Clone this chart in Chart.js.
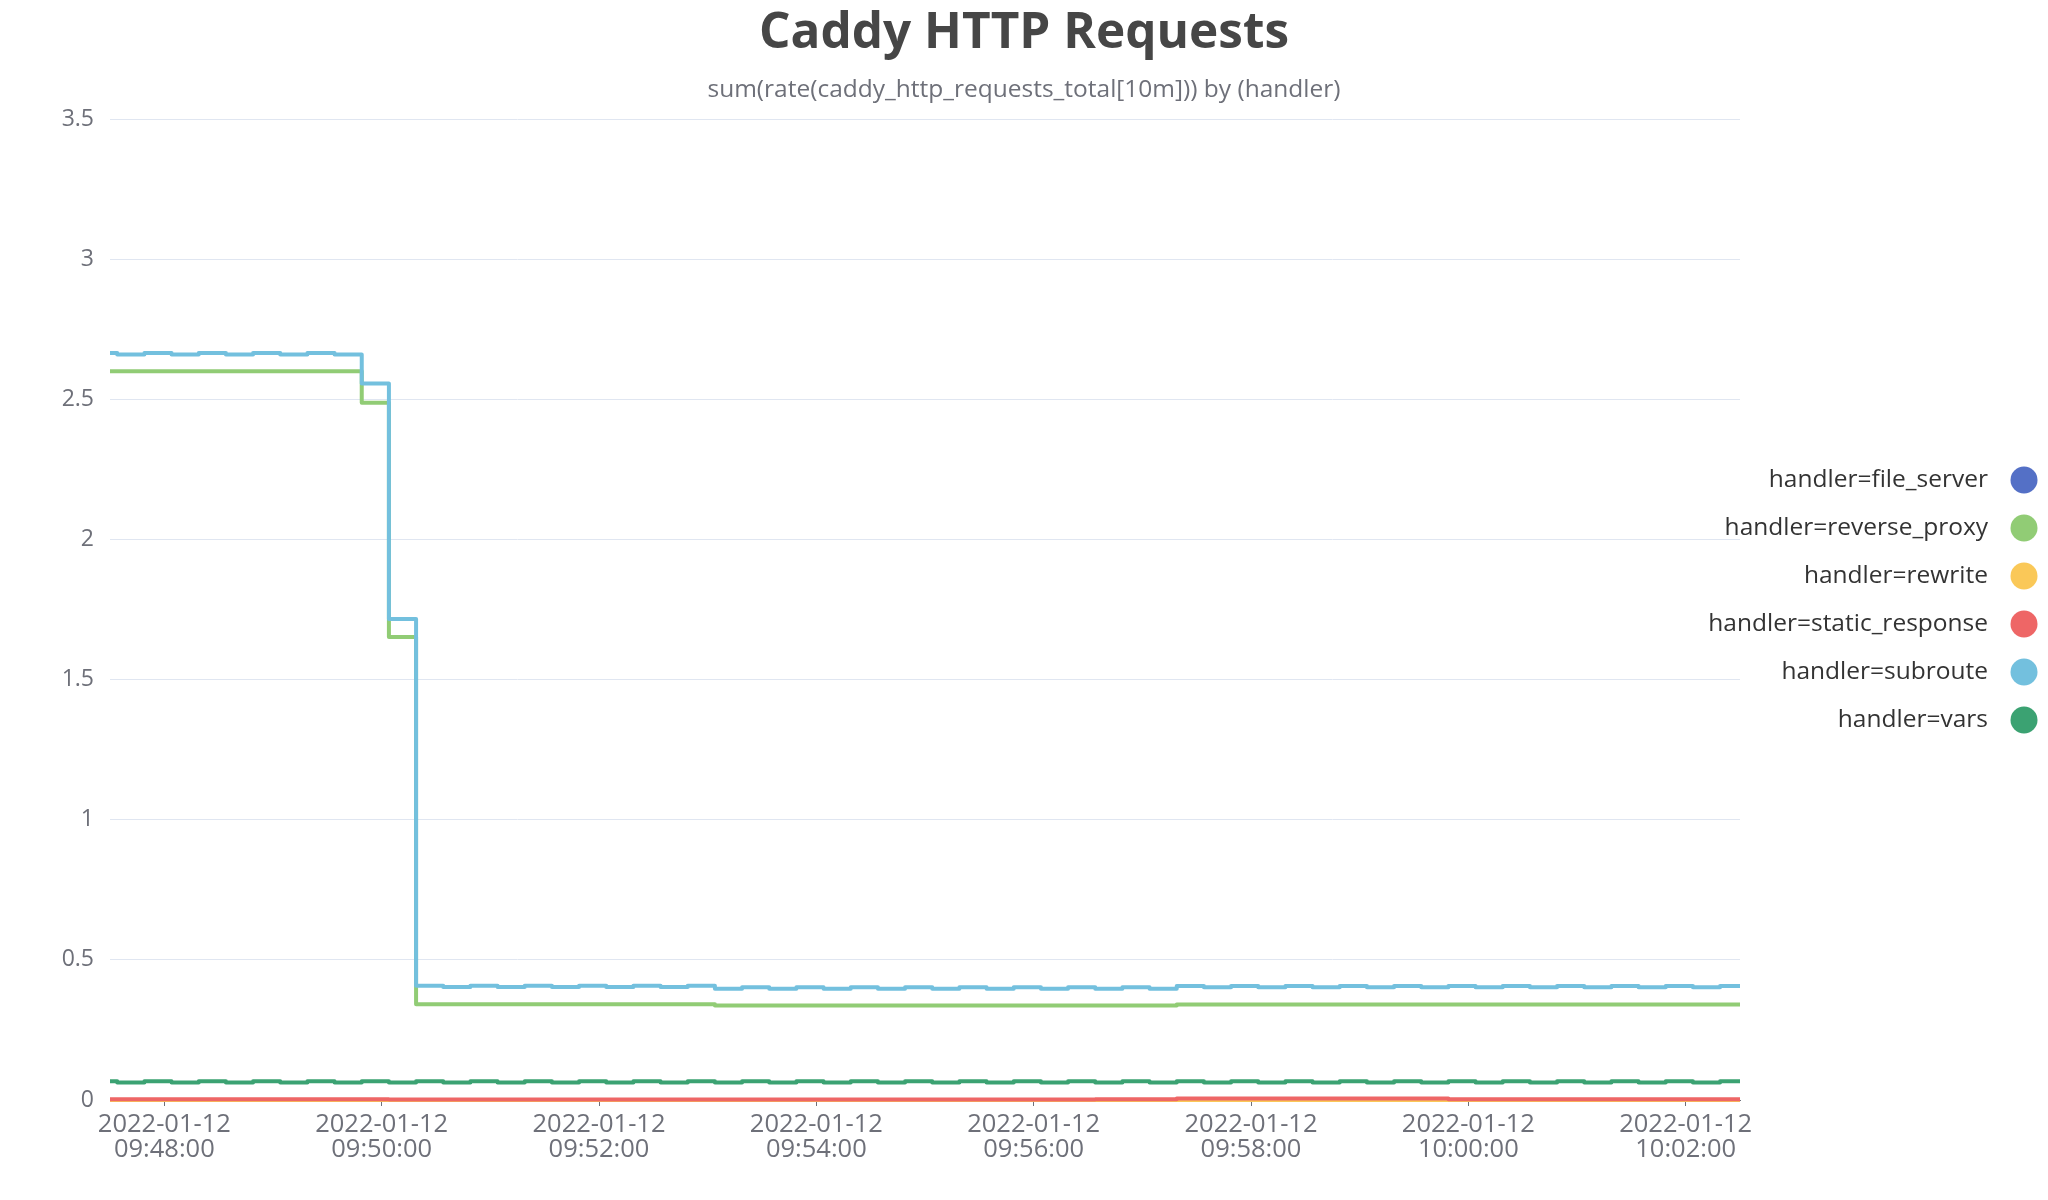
<!DOCTYPE html>
<html>
<head>
<meta charset="utf-8">
<script src="https://cdn.jsdelivr.net/npm/chart.js@4.4.1/dist/chart.umd.min.js"></script>
<style>
html,body{margin:0;padding:0;background:#ffffff;}
#wrap{width:2048px;height:1200px;position:relative;}
canvas{display:block;}
</style>
</head>
<body>
<div id="wrap"><canvas id="c" width="2048" height="1200"></canvas></div>
<script>
// ---- data ----
const chartTitle = 'Caddy HTTP Requests';
const chartSubtitle = 'sum(rate(caddy_http_requests_total[10m])) by (handler)';
const tickDate = '2022-01-12';
const tickTimes = ['09:48:00','09:50:00','09:52:00','09:54:00','09:56:00','09:58:00','10:00:00','10:02:00'];
const yTicks = [0, 0.5, 1, 1.5, 2, 2.5, 3, 3.5];

const times = ['09:47:30','09:47:34','09:47:49',
 '09:48:04','09:48:19','09:48:34','09:48:49',
 '09:49:04','09:49:19','09:49:34','09:49:49',
 '09:50:04','09:50:19','09:50:34','09:50:49',
 '09:51:04','09:51:19','09:51:34','09:51:49',
 '09:52:04','09:52:19','09:52:34','09:52:49',
 '09:53:04','09:53:19','09:53:34','09:53:49',
 '09:54:04','09:54:19','09:54:34','09:54:49',
 '09:55:04','09:55:19','09:55:34','09:55:49',
 '09:56:04','09:56:19','09:56:34','09:56:49',
 '09:57:04','09:57:19','09:57:34','09:57:49',
 '09:58:04','09:58:19','09:58:34','09:58:49',
 '09:59:04','09:59:19','09:59:34','09:59:49',
 '10:00:04','10:00:19','10:00:34','10:00:49',
 '10:01:04','10:01:19','10:01:34','10:01:49',
 '10:02:04','10:02:19','10:02:30'];

const seriesNames = ['handler=file_server','handler=reverse_proxy','handler=rewrite','handler=static_response','handler=subroute','handler=vars'];
const seriesColors = ['#5470c6','#91cc75','#fac858','#ee6666','#73c0de','#3ba272'];

const fileServer = [0,0,0,0,0,0,0,0,0,0, 0,0,0,0,0,0,0,0,0,0, 0,0,0,0,0,0,0,0,0,0, 0,0,0,0,0,0,0,0,0,0, 0,0,0,0,0,0,0,0,0,0, 0,0,0,0,0,0,0,0,0,0, 0,0];

const reverseProxy = [2.60,2.60,2.60,2.60,2.60,2.60,2.60,2.60,2.60,2.60,
 2.488,1.652,
 0.342,0.342,0.342,0.342,0.342,0.342,0.342,0.342,0.342,0.342,0.342,
 0.337,0.337,0.337,0.337,0.337,0.337,0.337,0.337,0.337,0.337,0.337,0.337,0.337,0.337,0.337,0.337,0.337,
 0.341,0.341,0.341,0.341,0.341,0.341,0.341,0.341,0.341,0.341,0.341,
 0.341,0.341,0.341,0.341,0.341,0.341,0.341,0.341,0.341,0.341,0.341];

const rewrite = [0,0,0,0,0,0,0,0,0,0, 0,0,0,0,0,0,0,0,0,0, 0,0,0,0,0,0,0,0,0,0, 0,0,0,0,0,0,0,0,0,0, 0,0,0,0,0,0,0,0,0,0, 0,0,0,0,0,0,0,0,0,0, 0,0];

const staticResponse = [0.003,0.003,0.003,0.003,0.003,0.003,0.003,0.003,0.003,0.003,0.003,
 0.002,0.002,0.002,0.002,0.002,0.002,0.002,0.002,0.002,0.002,0.002,0.002,0.002,
 0.002,0.002,0.002,0.002,0.002,0.002,0.002,0.002,0.002,0.002,0.002,0.002,0.002,
 0.003,0.003,0.003,
 0.005,0.005,0.005,0.005,0.005,0.005,0.005,0.005,0.005,0.005,
 0.003,0.003,0.003,0.003,0.003,0.003,0.003,0.003,0.003,0.003,0.003,0.003];

const subroute = [2.665,2.660,2.665,2.660,2.665,2.660,2.665,2.660,2.665,2.660,
 2.556,1.716,
 0.408,0.403,0.408,0.403,0.408,0.403,0.408,0.403,0.408,0.403,0.408,
 0.397,0.402,0.397,0.402,0.397,0.402,0.397,0.402,0.397,0.402,0.397,0.402,0.397,0.402,0.397,0.402,0.397,
 0.407,0.402,0.407,0.402,0.407,0.402,0.407,0.402,0.407,0.402,0.407,
 0.402,0.407,0.402,0.407,0.402,0.407,0.402,0.407,0.402,0.407,0.407];

const vars = [0.067,0.062,0.067,0.062,0.067,0.062,0.067,0.062,0.067,0.062,
 0.067,0.062,0.067,0.062,0.067,0.062,0.067,0.062,0.067,0.062,
 0.067,0.062,0.067,0.062,0.067,0.062,0.067,0.062,0.067,0.062,
 0.067,0.062,0.067,0.062,0.067,0.062,0.067,0.062,0.067,0.062,
 0.067,0.062,0.067,0.062,0.067,0.062,0.067,0.062,0.067,0.062,
 0.067,0.062,0.067,0.062,0.067,0.062,0.067,0.062,0.067,0.062,
 0.067,0.067];

const seriesValues = [fileServer, reverseProxy, rewrite, staticResponse, subroute, vars];

// ---- helpers ----
const FONT = "'Open Sans', 'Noto Sans', 'DejaVu Sans', sans-serif";
function toSec(s){ const p = s.split(':').map(Number); return p[0]*3600 + p[1]*60 + p[2]; }
const t0 = toSec(times[0]);
const tEnd = toSec(times[times.length-1]) - t0;

const datasets = seriesNames.map((name, i) => ({
  label: name,
  data: seriesValues[i].map((v, k) => ({ x: toSec(times[k]) - t0, y: v })),
  borderColor: seriesColors[i],
  backgroundColor: seriesColors[i],
  borderWidth: 4,
  borderJoinStyle: 'round',
  borderCapStyle: 'butt',
  pointRadius: 0,
  stepped: 'before',
  fill: false,
  clip: false,
  order: seriesNames.length - i
}));

const titles = {
  id: 'pageTitles',
  afterDraw(chart) {
    const ctx = chart.ctx;
    const cx = chart.width / 2;
    ctx.save();
    ctx.textAlign = 'center';
    ctx.textBaseline = 'middle';
    ctx.fillStyle = '#464646';
    ctx.font = 'bold 49.5px ' + FONT;
    ctx.fillText(chartTitle, cx, 34);
    ctx.fillStyle = '#6e7079';
    ctx.font = '24.5px ' + FONT;
    ctx.fillText(chartSubtitle, cx, 90);
    ctx.restore();
  }
};

const rightLegend = {
  id: 'rightLegend',
  afterDraw(chart) {
    const ctx = chart.ctx;
    const ds = chart.data.datasets;
    const n = ds.length;
    const gap = 48;
    const cy = chart.height / 2;
    ctx.save();
    ctx.font = '24.5px ' + FONT;
    ctx.textAlign = 'right';
    ctx.textBaseline = 'middle';
    ds.forEach((d, i) => {
      const y = cy + (i - (n - 1) / 2) * gap;
      ctx.fillStyle = '#333333';
      ctx.fillText(d.label, 1988, y);
      ctx.beginPath();
      ctx.arc(2024, y, 13.5, 0, Math.PI * 2);
      ctx.fillStyle = d.borderColor;
      ctx.fill();
    });
    ctx.restore();
  }
};

new Chart(document.getElementById('c'), {
  type: 'line',
  data: { datasets },
  plugins: [titles, rightLegend],
  options: {
    responsive: false,
    animation: false,
    devicePixelRatio: 1,
    layout: { padding: { left: 0, right: 308, top: 119, bottom: 0 } },
    plugins: {
      legend: { display: false },
      tooltip: { enabled: false },
      title: { display: false },
      subtitle: { display: false }
    },
    scales: {
      x: {
        type: 'linear', min: 0, max: tEnd,
        afterBuildTicks: (s) => { s.ticks = tickTimes.map(t => ({ value: toSec(t) - t0 })); },
        afterFit: (s) => { s.height = 100; },
        ticks: {
          autoSkip: false, maxRotation: 0, minRotation: 0,
          color: '#6e7079', padding: 6,
          font: { family: FONT, size: 25.5, lineHeight: '25px' },
          callback: (v, idx) => [tickDate, tickTimes[idx]]
        },
        grid: { drawOnChartArea: false, drawTicks: true, tickLength: 6, color: '#6e7079' },
        border: { display: true, color: '#6e7079', width: 1 }
      },
      y: {
        min: yTicks[0], max: yTicks[yTicks.length - 1],
        afterBuildTicks: (s) => { s.ticks = yTicks.map(v => ({ value: v })); },
        afterFit: (s) => { s.width = 110; },
        ticks: {
          color: '#6e7079', padding: 16, font: { family: FONT, size: 23 },
          callback: (v) => String(v)
        },
        grid: { color: '#e0e6f1', drawTicks: false, lineWidth: 1 },
        border: { display: false }
      }
    }
  }
});
</script>
</body>
</html>
